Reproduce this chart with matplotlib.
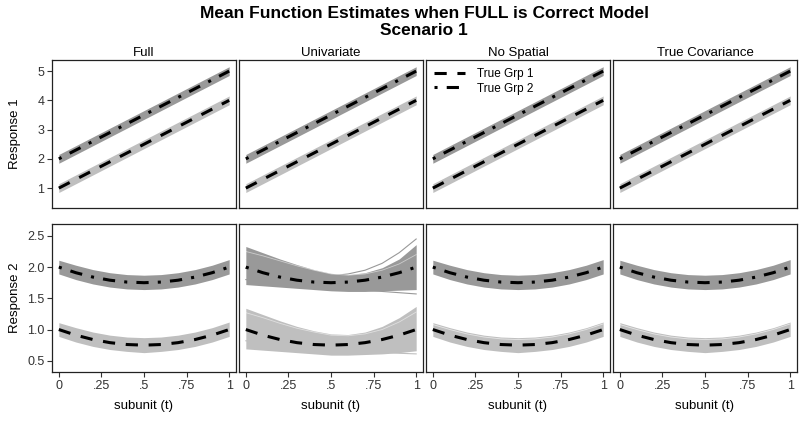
import matplotlib
matplotlib.use("AGG")
import matplotlib.pyplot as plt

plt.rcParams['font.family'] = ['Liberation Sans', 'DejaVu Sans']

# models (columns) and grid of subunit values
models = ['Full', 'Univariate', 'No Spatial', 'True Covariance']
t = [0, .1, .2, .3, .4, .5, .6, .7, .8, .9, 1]
xticks = [0, .25, .5, .75, 1]
xticklabels = ['0', '.25', '.5', '.75', '1']

# true mean functions
r1_grp2 = [2.0, 2.3, 2.6, 2.9, 3.2, 3.5, 3.8, 4.1, 4.4, 4.7, 5.0]
r1_grp1 = [1.0, 1.3, 1.6, 1.9, 2.2, 2.5, 2.8, 3.1, 3.4, 3.7, 4.0]
r2_grp2 = [2.0, 1.91, 1.84, 1.79, 1.76, 1.75, 1.76, 1.79, 1.84, 1.91, 2.0]
r2_grp1 = [1.0, 0.91, 0.84, 0.79, 0.76, 0.75, 0.76, 0.79, 0.84, 0.91, 1.0]

# envelopes of the estimated curves, response 1 (all models alike)
r1_g2_hi = [2.15, 2.45, 2.75, 3.05, 3.35, 3.65, 3.95, 4.25, 4.55, 4.85, 5.15]
r1_g2_lo = [1.85, 2.15, 2.45, 2.75, 3.05, 3.35, 3.65, 3.95, 4.25, 4.55, 4.85]
r1_g1_hi = [1.15, 1.45, 1.75, 2.05, 2.35, 2.65, 2.95, 3.25, 3.55, 3.85, 4.15]
r1_g1_lo = [0.85, 1.15, 1.45, 1.75, 2.05, 2.35, 2.65, 2.95, 3.25, 3.55, 3.85]

# envelopes, response 2, Full / No Spatial / True Covariance
r2_g2_hi = [2.11, 2.03, 1.96, 1.91, 1.88, 1.87, 1.88, 1.91, 1.96, 2.03, 2.12]
r2_g2_lo = [1.89, 1.80, 1.73, 1.68, 1.65, 1.64, 1.65, 1.68, 1.73, 1.80, 1.89]
r2_g1_hi = [1.11, 1.03, 0.96, 0.91, 0.88, 0.87, 0.88, 0.91, 0.96, 1.03, 1.12]
r2_g1_lo = [0.89, 0.80, 0.73, 0.68, 0.65, 0.63, 0.65, 0.68, 0.73, 0.80, 0.89]
# a paler estimate near the top of the lower band
r2_g1_pale = [1.08, 1.00, 0.93, 0.88, 0.85, 0.84, 0.85, 0.88, 0.93, 1.00, 1.09]

# envelopes, response 2, Univariate
uv_g2_hi = [2.33, 2.23, 2.13, 2.04, 1.96, 1.90, 1.88, 1.91, 1.99, 2.13, 2.36]
uv_g2_lo = [1.72, 1.70, 1.68, 1.66, 1.64, 1.62, 1.61, 1.61, 1.62, 1.63, 1.64]
uv_g1_hi = [1.34, 1.24, 1.14, 1.05, 0.98, 0.93, 0.92, 0.96, 1.05, 1.19, 1.37]
uv_g1_lo = [0.69, 0.67, 0.65, 0.63, 0.61, 0.59, 0.59, 0.60, 0.61, 0.63, 0.66]
# a few straying univariate estimates
uv_g2_out = [[1.98, 1.93, 1.89, 1.86, 1.85, 1.86, 1.89, 1.95, 2.06, 2.23, 2.45],
             [1.80, 1.77, 1.74, 1.71, 1.69, 1.67, 1.65, 1.63, 1.61, 1.59, 1.57]]
uv_g1_out = [[0.82, 0.79, 0.76, 0.73, 0.71, 0.69, 0.67, 0.66, 0.64, 0.62, 0.61]]
uv_pale = [[2.25, 2.18, 2.10, 2.02, 1.95, 1.89, 1.87, 1.89, 1.95, 2.05, 2.2],
           [1.27, 1.19, 1.10, 1.02, 0.96, 0.91, 0.90, 0.93, 1.00, 1.12, 1.28]]

dark = '#999999'
light = '#bfbfbf'

W, H = 804, 424
fig = plt.figure(figsize=(W / 100, H / 100), dpi=100)

lefts = [52, 239, 426, 613]
pw = 184
rows = [(60, 208), (224, 372)]


def box(x0, y0, y1):
    return [x0 / W, 1 - y1 / H, pw / W, (y1 - y0) / H]


for r, (y0, y1) in enumerate(rows):
    for c, name in enumerate(models):
        ax = fig.add_axes(box(lefts[c], y0, y1))
        if r == 0:
            ax.fill_between(t, r1_g2_lo, r1_g2_hi, color=dark, lw=0)
            ax.fill_between(t, r1_g1_lo, r1_g1_hi, color=light, lw=0)
            g2, g1 = r1_grp2, r1_grp1
            ax.set_ylim(0.32, 5.38)
            ax.set_yticks([1, 2, 3, 4, 5])
            ax.set_title(name, fontsize=9.5, pad=3)
        else:
            if name == 'Univariate':
                ax.fill_between(t, uv_g2_lo, uv_g2_hi, color=dark, lw=0)
                for y in uv_g2_out:
                    ax.plot(t, y, color=dark, lw=0.8)
                ax.fill_between(t, uv_g1_lo, uv_g1_hi, color=light, lw=0)
                for y in uv_g1_out:
                    ax.plot(t, y, color=light, lw=0.8)
                for y in uv_pale:
                    ax.plot(t, y, color='white', lw=0.6, alpha=0.5)
            else:
                ax.fill_between(t, r2_g2_lo, r2_g2_hi, color=dark, lw=0)
                ax.fill_between(t, r2_g1_lo, r2_g1_hi, color=light, lw=0)
                if name != 'Full':
                    ax.plot(t, r2_g1_pale, color='white', lw=0.6, alpha=0.6)
            g2, g1 = r2_grp2, r2_grp1
            ax.set_ylim(0.32, 2.69)
            ax.set_yticks([0.5, 1.0, 1.5, 2.0, 2.5])
        l1, = ax.plot(t, g1, color='black', lw=2.2, dashes=(4, 3.5))
        l2, = ax.plot(t, g2, color='black', lw=2.2, dashes=(1, 3, 4, 3))
        ax.set_xlim(-0.04, 1.04)
        ax.set_xticks(xticks)
        ax.set_xticklabels(xticklabels)
        for s in ax.spines.values():
            s.set_linewidth(0.9)
            s.set_color('#222222')
        ax.tick_params(length=3.5, width=0.8, color='#333333', labelcolor='#333333',
                       labelsize=9, pad=2)
        if c > 0:
            ax.tick_params(axis='y', left=False, labelleft=False)
        else:
            ax.yaxis.set_major_formatter(matplotlib.ticker.FormatStrFormatter(
                '%d' if r == 0 else '%.1f'))
            ax.set_ylabel('Response %d' % (r + 1), fontsize=9.5)
            ax.yaxis.set_label_coords(-0.17, 0.5)
        if r == 0:
            ax.tick_params(axis='x', bottom=False, labelbottom=False)
        else:
            ax.set_xlabel('subunit (t)', fontsize=9.5, labelpad=6)
        if r == 0 and name == 'No Spatial':
            leg = ax.legend([l1, l2], ['True Grp 1', 'True Grp 2'], loc='upper left',
                            frameon=False, fontsize=8.5, handlelength=2.6,
                            handletextpad=1.0, labelspacing=0.2,
                            borderaxespad=0.3)

fig.text(424 / W, 1 - 6 / H, 'Mean Function Estimates when FULL is Correct Model\nScenario 1',
         ha='center', va='top', fontsize=12.5, fontweight='bold', linespacing=1.15)

fig.savefig('out.png', dpi=100)
